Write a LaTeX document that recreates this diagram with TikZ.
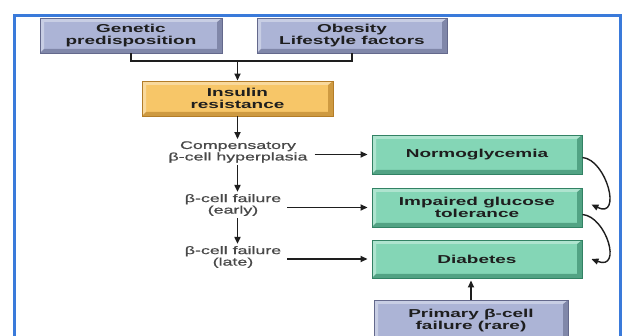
\documentclass[tikz,border=0pt]{standalone}
\usepackage{fontspec}
\setmainfont{Liberation Sans}
\newfontfamily\stretchfont{Liberation Sans}[FakeStretch=1.65]
\newfontfamily\midfont{Liberation Sans}[FakeStretch=1.62, FakeBold=0.8]
\usetikzlibrary{arrows.meta,calc}
\definecolor{frameblue}{RGB}{58,122,218}
\definecolor{lav}{RGB}{172,180,214}
\definecolor{lavdark}{RGB}{100,105,140}
\definecolor{orng}{RGB}{247,198,104}
\definecolor{orngdark}{RGB}{180,125,40}
\definecolor{mint}{RGB}{132,214,182}
\definecolor{mintdark}{RGB}{50,130,100}
\definecolor{txtgray}{RGB}{72,72,72}
\definecolor{boxtxt}{RGB}{30,30,30}
\definecolor{linecol}{RGB}{30,30,30}
\tikzset{
  pbox/.style={draw=#1dark, line width=0.9pt, fill=#1, text=boxtxt, align=center, inner sep=0pt,
    font=\stretchfont\bfseries\fontsize{11.5}{12}\selectfont,
    path picture={
      \fill[#1dark, opacity=0.6] (path picture bounding box.south west) -- (path picture bounding box.south east)
        -- (path picture bounding box.north east) -- ($(path picture bounding box.north east)+(-5pt,-4pt)$)
        -- ($(path picture bounding box.south east)+(-5pt,4pt)$) -- ($(path picture bounding box.south west)+(4pt,4pt)$) -- cycle;
      \fill[white, opacity=0.35] (path picture bounding box.south west) -- (path picture bounding box.north west)
        -- (path picture bounding box.north east) -- ($(path picture bounding box.north east)+(-5pt,-4pt)$)
        -- ($(path picture bounding box.north west)+(4pt,-4pt)$) -- ($(path picture bounding box.south west)+(4pt,4pt)$) -- cycle;
    }},
  midtext/.style={text=txtgray, align=center, inner sep=2pt, font=\midfont\fontsize{11}{11.5}\selectfont},
  conn/.style={line width=1.7pt, draw=linecol},
  arr/.style={conn, -{Triangle[length=7pt,width=6pt]}},
}
\begin{document}
\begin{tikzpicture}[x=1pt,y=-1pt]
\useasboundingbox (0,0) rectangle (625,336);
\clip (0,0) rectangle (625,336);
\fill[white] (0,0) rectangle (625,336);
\draw[frameblue, line width=3pt] (14,345) -- (14,15.5) -- (620,15.5) -- (620,345);

\node[pbox=lav, minimum width=182pt, minimum height=35pt] (gen) at (131,35.5) {Genetic\\predisposition};
\node[pbox=lav, minimum width=190pt, minimum height=35pt] (obe) at (352,35.5) {Obesity\\Lifestyle factors};
\node[pbox=orng, minimum width=191pt, minimum height=35pt] (ins) at (237.5,98.5) {Insulin\\resistance};

\node[midtext] (comp) at (238,152) {Compensatory\\β-cell hyperplasia};
\node[midtext] (early) at (233,205) {β-cell failure\\(early)};
\node[midtext] (late) at (233,257) {β-cell failure\\(late)};

\node[pbox=mint, minimum width=210pt, minimum height=39pt] (normo) at (477,154.5) {Normoglycemia};
\node[pbox=mint, minimum width=210pt, minimum height=39pt] (imp) at (477,207.5) {Impaired glucose\\tolerance};
\node[pbox=mint, minimum width=210pt, minimum height=38pt] (diab) at (477,259) {Diabetes};
\node[pbox=lav, minimum width=194pt, minimum height=42pt] (prim) at (471,321) {Primary β-cell\\failure (rare)};

\coordinate (bj) at (237.5,61);
\draw[conn] (gen.south) |- (bj) -| (obe.south);
\draw[arr] (bj) -- (ins.north);

\draw[arr] (ins.south) -- (comp.north -| ins.south);
\draw[arr] (comp.south -| ins.south) -- (early.north -| ins.south);
\draw[arr] (early.south -| ins.south) -- (late.north -| ins.south);

\draw[arr, shorten >=4pt] ($(comp.east |- normo.west)+(5,0)$) -- (normo.west);
\draw[arr, shorten >=4pt] ($(early.east |- imp.west)+(4,0)$) -- (imp.west);
\draw[arr, shorten >=4pt] ($(late.east |- diab.west)+(4,0)$) -- (diab.west);

\draw[arr, shorten >=2pt] (prim.north) -- (diab.south -| prim.north);

\draw[conn, line width=1.4pt, -{Triangle[length=7pt,width=6pt]}] ([yshift=-3pt]normo.east) .. controls ([shift={(24pt,-5pt)}]normo.east) and ([shift={(40pt,-12pt)}]imp.east) .. ([shift={(9pt,3pt)}]imp.east);
\draw[conn, line width=1.4pt, -{Triangle[length=7pt,width=6pt]}] ([yshift=-7pt]imp.east) .. controls ([shift={(24pt,-9pt)}]imp.east) and ([shift={(40pt,-12pt)}]diab.east) .. ([shift={(9pt,0pt)}]diab.east);
\end{tikzpicture}
\end{document}
